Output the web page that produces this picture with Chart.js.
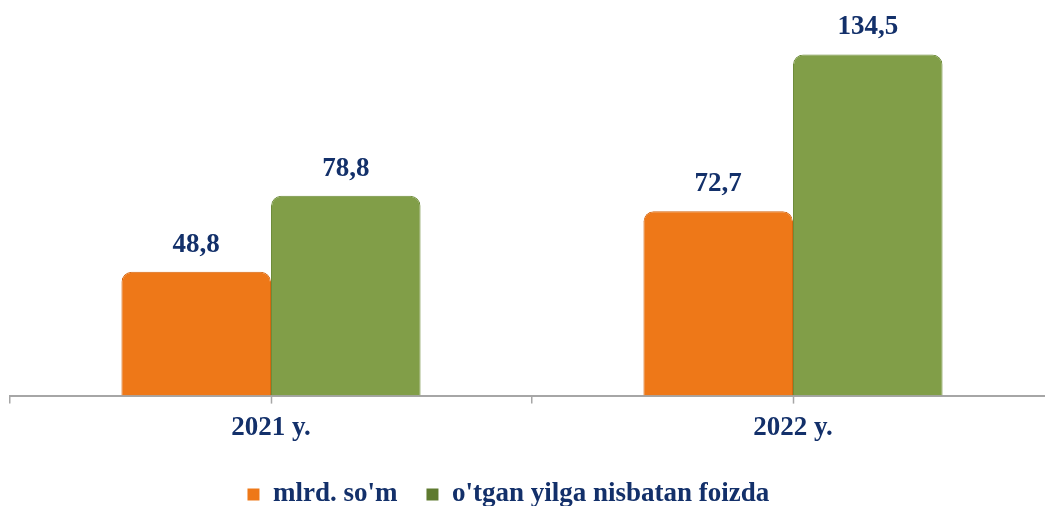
<!DOCTYPE html>
<html>
<head>
<meta charset="utf-8">
<script src="https://cdn.jsdelivr.net/npm/chart.js@4.4.0/dist/chart.umd.min.js"></script>
<style>
html,body{margin:0;padding:0;background:#fff;overflow:hidden;}
#wrap{width:1045px;height:506px;position:relative;overflow:hidden;}
canvas{display:block;}
</style>
</head>
<body>
<div id="wrap"><canvas id="c" width="1054" height="518"></canvas></div>
<script>
const categories = ["2021 y.", "2022 y."];
const seriesNames = ["mlrd. so'm", "o'tgan yilga nisbatan foizda"];
const mlrdSom = [48.8, 72.7];
const foizda = [78.8, 134.5];
const labelFmt = v => v.toFixed(1).replace('.', ',');

const navy = '#13306A';
const serif = "'Liberation Serif', 'Times New Roman', serif";

function barGradient(ctx, base, edge) {
  const chart = ctx.chart;
  const el = ctx.element;
  if (!el || !chart.chartArea) return base;
  const p = el.getProps(['x', 'width'], true);
  if (!isFinite(p.x) || !isFinite(p.width)) return base;
  const g = chart.ctx.createLinearGradient(p.x - p.width / 2, 0, p.x + p.width / 2, 0);
  g.addColorStop(0, edge);
  g.addColorStop(0.05, base);
  g.addColorStop(0.95, base);
  g.addColorStop(1, edge);
  return g;
}

const valueLabels = {
  id: 'valueLabels',
  afterDatasetsDraw(chart) {
    const ctx = chart.ctx;
    ctx.save();
    ctx.font = "bold 27px " + serif;
    ctx.fillStyle = navy;
    ctx.textAlign = 'center';
    ctx.textBaseline = 'middle';
    chart.data.datasets.forEach((ds, di) => {
      chart.getDatasetMeta(di).data.forEach((bar, i) => {
        ctx.fillText(labelFmt(ds.data[i]), bar.x, bar.y - 27);
      });
    });
    ctx.restore();
  }
};

const centerTicks = {
  id: 'centerTicks',
  afterDraw(chart) {
    const xs = chart.scales.x;
    const ctx = chart.ctx;
    ctx.save();
    ctx.strokeStyle = '#A6A6A6';
    ctx.lineWidth = 1.5;
    categories.forEach((c, i) => {
      const px = Math.round(xs.getPixelForValue(i)) + 0.5;
      ctx.beginPath();
      ctx.moveTo(px, xs.top);
      ctx.lineTo(px, xs.top + 8);
      ctx.stroke();
    });
    ctx.restore();
  }
};

new Chart(document.getElementById('c'), {
  type: 'bar',
  data: {
    labels: categories,
    datasets: [
      {
        label: seriesNames[0],
        data: mlrdSom,
        backgroundColor: c => barGradient(c, '#EE7818', '#C05A0E'),
        borderColor: '#D5660F',
        borderWidth: 1,
        borderRadius: {topLeft: 10, topRight: 10, bottomLeft: 0, bottomRight: 0},
        borderSkipped: 'bottom',
        categoryPercentage: 0.573,
        barPercentage: 1.0
      },
      {
        label: seriesNames[1],
        data: foizda,
        backgroundColor: c => barGradient(c, '#819E48', '#5E7A2F'),
        borderColor: '#6E8C3A',
        borderWidth: 1,
        borderRadius: {topLeft: 10, topRight: 10, bottomLeft: 0, bottomRight: 0},
        borderSkipped: 'bottom',
        categoryPercentage: 0.573,
        barPercentage: 1.0
      }
    ]
  },
  options: {
    responsive: false,
    animation: false,
    devicePixelRatio: 1,
    layout: {padding: {left: 10, right: 0, top: 0, bottom: 0}},
    scales: {
      x: {
        offset: true,
        grid: {offset: true, drawOnChartArea: false, drawTicks: true, tickLength: 8, color: '#A6A6A6', lineWidth: 1.5},
        border: {display: true, color: '#A6A6A6', width: 2},
        ticks: {color: navy, font: {family: serif, size: 27, weight: 'bold'}, padding: 8}
      },
      y: {
        display: false,
        min: 0,
        max: 156
      }
    },
    plugins: {
      legend: {
        position: 'bottom',
        labels: {
          color: navy,
          font: {family: serif, size: 27, weight: 'bold'},
          boxWidth: 12,
          boxHeight: 12,
          padding: 29,
          generateLabels(chart) {
            const items = Chart.defaults.plugins.legend.labels.generateLabels(chart);
            items.forEach((it, i) => {
              it.lineWidth = 0;
              if (i === items.length - 1) it.text = it.text + '       ';
            });
            return items;
          }
        }
      },
      tooltip: {enabled: false}
    }
  },
  plugins: [valueLabels, centerTicks]
});
</script>
</body>
</html>
